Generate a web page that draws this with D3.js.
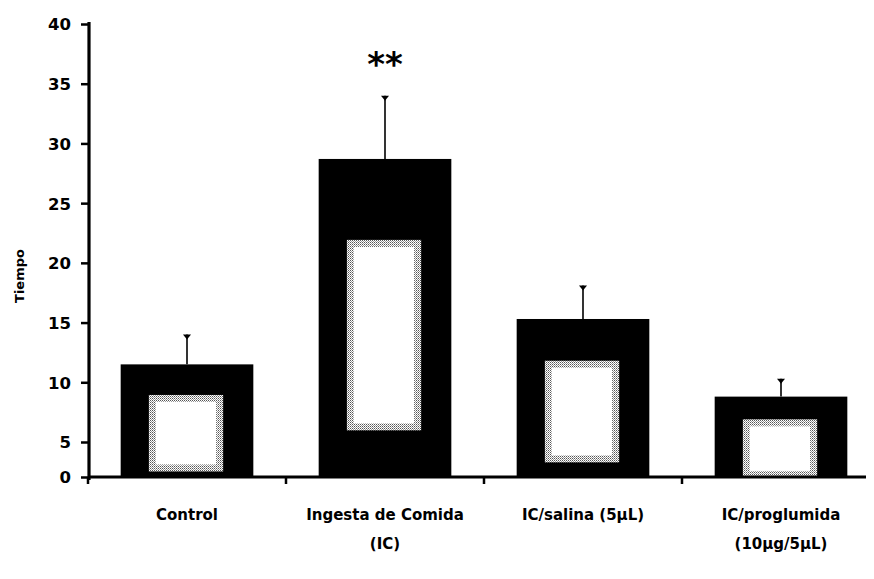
<!DOCTYPE html>
<html>
<head>
<meta charset="utf-8">
<script src="https://cdn.jsdelivr.net/npm/d3@7"></script>
<style>
  html, body { margin: 0; padding: 0; background: #fff; }
  svg { display: block; }
  text { font-family: "DejaVu Sans", sans-serif; font-weight: bold; fill: #000; }
</style>
</head>
<body>
<svg id="chart" width="874" height="579"></svg>
<script>
// Groups (each label may wrap onto a second line)
const categories = ["Control", "Ingesta de Comida", "IC/salina (5μL)", "IC/proglumida"];
const categoryLines = [["Control"], ["Ingesta de Comida", "(IC)"], ["IC/salina (5μL)"], ["IC/proglumida", "(10μg/5μL)"]];
// Mean time and upper error (mean + SEM)
const means = [11.5, 28.7, 15.3, 8.8];
const errTops = [14.0, 34.0, 18.1, 10.3];
// Significance marks
const signif = ["", "**", "", ""];
const yTicks = [0, 5, 10, 15, 20, 25, 30, 35, 40];

const svg = d3.select("#chart");

// The value axis has a short segment between 0 and 5 (broken axis)
const y = d3.scaleLinear().domain([0, 5, 40]).range([477, 442, 24]);
const x = d3.scaleBand().domain(categories).range([88, 880])
  .paddingInner(0.33).paddingOuter(0.165);

// dithered pattern for the inner panels of each bar
const defs = svg.append("defs");
const pat = defs.append("pattern").attr("id", "dither")
  .attr("width", 2).attr("height", 2).attr("patternUnits", "userSpaceOnUse");
pat.append("rect").attr("width", 2).attr("height", 2).attr("fill", "#fff");
pat.append("rect").attr("width", 1).attr("height", 1).attr("fill", "#555");
pat.append("rect").attr("x", 1).attr("y", 1).attr("width", 1).attr("height", 1).attr("fill", "#999");

const base = y(0);
const data = categories.map((c, i) => ({ c, i, v: means[i], e: errTops[i], s: signif[i] }));

// bars
const g = svg.append("g");
g.selectAll("rect.bar").data(data).join("rect")
  .attr("class", "bar")
  .attr("x", d => x(d.c))
  .attr("width", x.bandwidth())
  .attr("y", d => y(d.v))
  .attr("height", d => base - y(d.v))
  .attr("fill", "#000");

// lighter inner panel inside each bar
const panel = d => {
  const top = y(d.v), h = base - top;
  const w = x.bandwidth() * 0.56;
  const cx = x(d.c) + x.bandwidth() / 2 - 1;
  const y0 = top + 0.245 * h + 3;
  const y1 = base - (0.2 * h - 17);
  return { x0: cx - w / 2, w, y0, h: y1 - y0 };
};
g.selectAll("rect.panel").data(data).join("rect")
  .attr("class", "panel")
  .attr("x", d => panel(d).x0).attr("width", d => panel(d).w)
  .attr("y", d => panel(d).y0).attr("height", d => panel(d).h)
  .attr("fill", "url(#dither)");
g.selectAll("rect.panelIn").data(data).join("rect")
  .attr("class", "panelIn")
  .attr("x", d => panel(d).x0 + 7).attr("width", d => panel(d).w - 14)
  .attr("y", d => panel(d).y0 + 7).attr("height", d => panel(d).h - 14)
  .attr("fill", "#fff");

// error bars
const cxOf = d => x(d.c) + x.bandwidth() / 2;
g.selectAll("line.err").data(data).join("line")
  .attr("class", "err")
  .attr("x1", cxOf).attr("x2", cxOf)
  .attr("y1", d => y(d.v)).attr("y2", d => y(d.e))
  .attr("stroke", "#000").attr("stroke-width", 1.6);
g.selectAll("path.cap").data(data).join("path")
  .attr("class", "cap")
  .attr("d", d => {
    const cx = cxOf(d), t = y(d.e);
    return `M${cx - 4},${t} L${cx + 4},${t} L${cx},${t + 5} Z`;
  })
  .attr("fill", "#000");

// significance
g.selectAll("text.sig").data(data.filter(d => d.s)).join("text")
  .attr("class", "sig")
  .attr("x", cxOf).attr("y", 76)
  .attr("text-anchor", "middle")
  .style("font-size", "34px")
  .text(d => d.s);

// y axis
const yAxis = d3.axisLeft(y).tickValues(yTicks).tickSize(8).tickPadding(10);
const ya = svg.append("g").attr("transform", "translate(89,0)").call(yAxis);
ya.select(".domain").attr("stroke-width", 3.2).attr("d", "M0,22V480");
ya.selectAll(".tick line").attr("stroke-width", 2.5);
ya.selectAll(".tick text").style("font-size", "16.5px").attr("dy", "0.36em")
  .style("font-family", "Verdana, 'DejaVu Sans', sans-serif");

// x axis
const xa = svg.append("g").attr("transform", `translate(0,${base})`);
xa.append("line").attr("x1", 88).attr("x2", 866).attr("y1", 0).attr("y2", 0)
  .attr("stroke", "#000").attr("stroke-width", 3);
const boundaries = categories.map(c => x(c) - x.step() * x.paddingInner() / 2);
boundaries[0] = 88;
xa.selectAll("line.tk").data(boundaries).join("line")
  .attr("class", "tk")
  .attr("x1", d => d).attr("x2", d => d).attr("y1", 0).attr("y2", 7)
  .attr("stroke", "#000").attr("stroke-width", 2.5);

const lab = svg.append("g");
data.forEach(d => {
  const t = lab.append("text")
    .attr("x", cxOf(d)).attr("y", 520)
    .attr("text-anchor", "middle")
    .style("font-size", "15px");
  categoryLines[d.i].forEach((line, k) => {
    t.append("tspan").attr("x", cxOf(d)).attr("dy", k === 0 ? 0 : 29).text(line);
  });
});

// y title
svg.append("text")
  .attr("transform", "translate(24,276) rotate(-90)")
  .attr("text-anchor", "middle")
  .style("font-size", "13px")
  .text("Tiempo");
</script>
</body>
</html>
